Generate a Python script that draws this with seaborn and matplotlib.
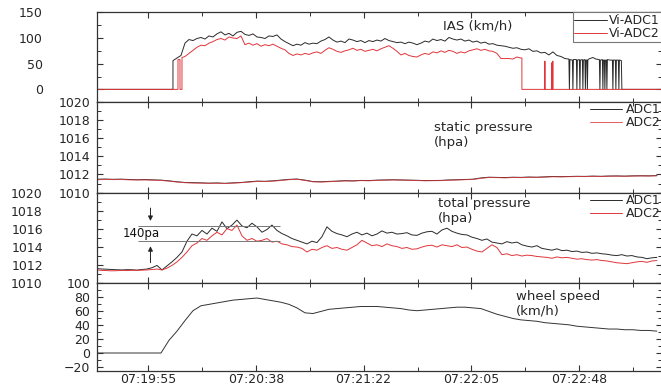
import numpy as np
import pandas as pd
import matplotlib
matplotlib.use("Agg")
import matplotlib.pyplot as plt
from matplotlib.ticker import FixedLocator, MultipleLocator
import seaborn as sns

# ---------------- data (time in seconds after 07:19:55) ----------------
x_tick_pos = [0.0, 43.333, 86.667, 130.0, 173.333]
x_tick_labels = ["07:19:55", "07:20:38", "07:21:22", "07:22:05", "07:22:48"]
x_limits = [-20.49, 206.6]

# IAS ADC1 (black)
ias1_head_t = [-20.49, 10.04]
ias1_head_v = [0, 0]
ias1_main_span = [10.05, 169.18]
ias1_main_v = [56, 61, 66, 90, 97, 95, 99, 101, 98, 104,
               102, 108, 112, 106, 109, 104, 111, 113, 107, 105,
               108, 102, 101, 99, 104, 103, 106, 98, 93, 89,
               85, 88, 86, 91, 88, 90, 89, 94, 97, 102,
               96, 92, 94, 91, 98, 96, 93, 95, 91, 95,
               93, 96, 94, 99, 95, 93, 91, 92, 89, 92,
               90, 87, 90, 94, 92, 98, 95, 97, 94, 101,
               98, 96, 98, 94, 96, 92, 94, 90, 92, 88,
               89, 86, 85, 84, 82, 80, 81, 78, 77, 79,
               74, 75, 71, 72, 67, 73, 66, 64, 60, 59]
ias1_tail_t = [169.38, 169.58, 170.59, 170.79, 170.99, 172.19, 172.39, 172.59,
               173.40, 173.60, 173.80, 174.60, 174.80, 175.00, 175.61, 175.81,
               176.01, 176.41, 176.61, 176.81, 177.62, 178.82, 180.03, 181.43,
               181.64, 181.84, 182.64, 182.84, 183.04, 183.44, 183.64, 183.84,
               184.25, 184.45, 184.65, 185.65, 186.66, 186.86, 187.06, 187.86,
               188.06, 188.26, 189.07, 189.27, 189.47, 190.27, 190.47, 206.6]
ias1_tail_v = [0, 58, 57, 0, 58, 58, 0, 57,
               58, 0, 57, 58, 0, 57, 58, 0,
               57, 57, 0, 58, 60, 62, 59, 58,
               0, 57, 58, 0, 57, 57, 0, 57,
               57, 0, 58, 57, 57, 0, 57, 57,
               0, 57, 57, 0, 57, 56, 0, 0]

# IAS ADC2 (red)
ias2_head_t = [-20.49, 12.06, 12.07, 12.86, 12.87, 13.66, 13.67]
ias2_head_v = [0, 0, 58, 58, 0, 0, 62]
ias2_main_span = [14.87, 149.89]
ias2_main_v = [64, 70, 76, 82, 86, 85, 90, 93, 97, 99,
               96, 102, 100, 99, 104, 87, 90, 86, 89, 84,
               87, 85, 88, 84, 80, 77, 70, 66, 69, 67,
               70, 68, 71, 73, 70, 76, 81, 78, 74, 72,
               75, 77, 80, 76, 78, 74, 76, 78, 75, 79,
               82, 85, 80, 74, 67, 70, 66, 64, 63, 67,
               70, 68, 73, 71, 75, 72, 76, 74, 70, 73,
               71, 75, 77, 79, 76, 78, 75, 74, 70, 60,
               60, 60, 59, 63, 61]
ias2_tail_t = [150.28, 150.29, 159.45, 159.53, 159.61, 162.27, 162.35, 162.47,
               162.59, 162.71, 162.83, 206.6]
ias2_tail_v = [61, 0, 0, 55, 0, 0, 52, 0, 0, 55, 0, 0]

# static pressure (hPa)
static_span = [-20.49, 204.54]
static1 = [1011.48, 1011.50, 1011.47, 1011.49, 1011.45, 1011.42, 1011.44, 1011.41,
           1011.38, 1011.30, 1011.20, 1011.12, 1011.10, 1011.08, 1011.05, 1011.07,
           1011.03, 1011.08, 1011.12, 1011.20, 1011.27, 1011.25, 1011.30, 1011.38,
           1011.46, 1011.50, 1011.38, 1011.22, 1011.20, 1011.24, 1011.27, 1011.32,
           1011.30, 1011.35, 1011.33, 1011.38, 1011.40, 1011.42, 1011.40, 1011.38,
           1011.36, 1011.33, 1011.34, 1011.35, 1011.40, 1011.42, 1011.45, 1011.48,
           1011.62, 1011.70, 1011.68, 1011.66, 1011.70, 1011.68, 1011.72, 1011.70,
           1011.74, 1011.78, 1011.76, 1011.78, 1011.80, 1011.79, 1011.82, 1011.80,
           1011.83, 1011.84, 1011.82, 1011.85, 1011.86, 1011.85, 1011.88]
static2 = [1011.42, 1011.46, 1011.44, 1011.45, 1011.41, 1011.40, 1011.40, 1011.37,
           1011.35, 1011.27, 1011.17, 1011.10, 1011.06, 1011.05, 1011.02, 1011.04,
           1011.01, 1011.05, 1011.10, 1011.16, 1011.24, 1011.23, 1011.27, 1011.34,
           1011.43, 1011.48, 1011.35, 1011.20, 1011.17, 1011.21, 1011.25, 1011.29,
           1011.28, 1011.33, 1011.31, 1011.35, 1011.37, 1011.40, 1011.38, 1011.36,
           1011.34, 1011.31, 1011.32, 1011.33, 1011.37, 1011.40, 1011.43, 1011.46,
           1011.58, 1011.67, 1011.66, 1011.63, 1011.67, 1011.66, 1011.69, 1011.68,
           1011.71, 1011.75, 1011.74, 1011.76, 1011.78, 1011.77, 1011.80, 1011.78,
           1011.81, 1011.82, 1011.80, 1011.83, 1011.84, 1011.83, 1011.86]

# total pressure (hPa)
total_span = [-20.49, 204.54]
total1 = [1011.55, 1011.50, 1011.48, 1011.45, 1011.42, 1011.40, 1011.43, 1011.42,
          1011.38, 1011.45, 1011.50, 1011.65, 1011.90, 1011.40, 1011.85, 1012.30,
          1012.80, 1013.40, 1014.60, 1015.40, 1015.20, 1015.80, 1015.40, 1016.05,
          1015.70, 1016.75, 1016.00, 1016.40, 1016.95, 1016.30, 1016.10, 1016.60,
          1016.20, 1015.60, 1015.90, 1016.40, 1015.80, 1015.45, 1015.20, 1014.90,
          1014.70, 1014.50, 1014.30, 1014.60, 1014.45, 1015.10, 1016.20, 1015.70,
          1015.45, 1015.30, 1015.10, 1015.40, 1015.60, 1015.30, 1015.50, 1015.20,
          1015.40, 1015.75, 1015.50, 1015.60, 1015.40, 1015.45, 1015.55, 1015.30,
          1015.25, 1015.50, 1015.65, 1015.70, 1015.40, 1015.85, 1016.05, 1015.70,
          1015.50, 1015.35, 1015.30, 1015.05, 1014.90, 1014.70, 1014.85, 1014.50,
          1014.40, 1014.30, 1014.55, 1014.40, 1014.50, 1014.20, 1014.05, 1013.95,
          1014.10, 1013.80, 1013.70, 1013.60, 1013.75, 1013.55, 1013.60, 1013.45,
          1013.50, 1013.35, 1013.40, 1013.25, 1013.30, 1013.20, 1013.15, 1013.05,
          1013.00, 1013.10, 1012.95, 1013.00, 1012.85, 1012.80, 1012.65, 1012.75,
          1012.80]
total2 = [1011.40, 1011.35, 1011.33, 1011.30, 1011.32, 1011.35, 1011.33, 1011.36,
          1011.35, 1011.38, 1011.40, 1011.45, 1011.50, 1011.40, 1011.60, 1011.90,
          1012.30, 1012.80, 1013.40, 1014.10, 1014.40, 1014.90, 1014.70, 1015.20,
          1015.60, 1015.30, 1016.00, 1015.80, 1016.40, 1015.20, 1014.70, 1014.90,
          1014.60, 1014.70, 1014.90, 1014.50, 1014.60, 1014.30, 1014.20, 1014.00,
          1013.95, 1013.80, 1013.40, 1013.70, 1013.60, 1013.90, 1014.10, 1013.80,
          1013.90, 1013.70, 1013.60, 1013.90, 1014.20, 1014.70, 1014.40, 1014.10,
          1014.20, 1014.00, 1014.30, 1014.10, 1014.00, 1013.80, 1013.90, 1013.70,
          1013.75, 1013.95, 1014.10, 1014.15, 1013.95, 1014.20, 1014.10, 1014.00,
          1014.20, 1013.90, 1013.95, 1013.70, 1013.50, 1013.40, 1013.80, 1014.20,
          1013.90, 1013.10, 1013.20, 1013.00, 1013.10, 1012.95, 1013.05, 1013.00,
          1012.90, 1012.85, 1012.80, 1012.70, 1012.85, 1012.75, 1012.80, 1012.70,
          1012.60, 1012.65, 1012.55, 1012.50, 1012.55, 1012.45, 1012.40, 1012.30,
          1012.20, 1012.15, 1012.10, 1012.20, 1012.30, 1012.35, 1012.25, 1012.40,
          1012.45]

# wheel speed (km/h)
wheel_span = [-20.49, 204.54]
wheel = [0, 0, 0, 0, 0, 0, 0, 0, 0,
         18, 31, 46, 60, 67, 69, 71, 73, 75, 76,
         77, 78, 76, 74, 72, 69, 64, 57, 56, 59,
         62, 63, 64, 65, 66, 66, 66, 65, 64, 63,
         61, 60, 61, 62, 63, 64, 65, 65, 64, 63,
         59, 55, 52, 49, 47, 46, 45, 43, 42, 41,
         40, 38, 37, 36, 35, 34, 34, 33, 33, 32,
         32, 31]

# annotation of the 140 Pa gap
gap_levels = [1016.25, 1014.65]
gap_span = [-4.0, 53.0]
gap_arrow_t = 1.0
gap_arrow_down = [1018.6, 1016.55]
gap_arrow_up = [1011.9, 1014.35]
gap_label = "140pa"
gap_label_pos = [-2.8, 1015.45]

# ---------------- style ----------------
sns.set_style("ticks")
plt.rcParams["font.family"] = ["DejaVu Sans"]
plt.rcParams["font.size"] = 9
BLACK = "#2a2a2a"
RED = "#e0353a"
LW = 0.7


def series(head_t, head_v, span, main_v, tail_t, tail_v):
    t = np.concatenate([head_t, np.linspace(span[0], span[1], len(main_v)), tail_t])
    v = np.concatenate([head_v, main_v, tail_v])
    return pd.DataFrame({"t": t, "v": v})


def uniform(span, vals):
    return pd.DataFrame({"t": np.linspace(span[0], span[1], len(vals)), "v": vals})


fig = plt.figure(figsize=(6.61, 3.87), dpi=100)
left, width = 97 / 661, (662 - 97) / 661
rows = [(0.7372, 0.2310), (0.5021, 0.2351), (0.2700, 0.2320), (0.0414, 0.2286)]
axes = [fig.add_axes([left, b, width, h]) for b, h in rows]
ax1, ax2, ax3, ax4 = axes

# panel 1 : IAS
d1 = series(ias1_head_t, ias1_head_v, ias1_main_span, ias1_main_v, ias1_tail_t, ias1_tail_v)
d2 = series(ias2_head_t, ias2_head_v, ias2_main_span, ias2_main_v, ias2_tail_t, ias2_tail_v)
sns.lineplot(data=d1, x="t", y="v", ax=ax1, color=BLACK, lw=LW, estimator=None, sort=False, label="Vi-ADC1")
sns.lineplot(data=d2, x="t", y="v", ax=ax1, color=RED, lw=LW, estimator=None, sort=False, label="Vi-ADC2")
ax1.set_ylim(-24, 150)
ax1.yaxis.set_major_locator(FixedLocator([0, 50, 100, 150]))
ax1.yaxis.set_minor_locator(MultipleLocator(25))

# panel 2 : static pressure
sns.lineplot(data=uniform(static_span, static1), x="t", y="v", ax=ax2, color=BLACK, lw=LW,
             estimator=None, sort=False, label="ADC1")
sns.lineplot(data=uniform(static_span, static2), x="t", y="v", ax=ax2, color=RED, lw=LW,
             estimator=None, sort=False, label="ADC2", alpha=0.8)
ax2.set_ylim(1010, 1020)
ax2.yaxis.set_major_locator(MultipleLocator(2))
ax2.yaxis.set_minor_locator(MultipleLocator(1))

# panel 3 : total pressure
sns.lineplot(data=uniform(total_span, total1), x="t", y="v", ax=ax3, color=BLACK, lw=LW,
             estimator=None, sort=False, label="ADC1")
sns.lineplot(data=uniform(total_span, total2), x="t", y="v", ax=ax3, color=RED, lw=LW,
             estimator=None, sort=False, label="ADC2")
ax3.set_ylim(1010, 1020)
ax3.yaxis.set_major_locator(MultipleLocator(2))
ax3.yaxis.set_minor_locator(MultipleLocator(1))
ax3.hlines(gap_levels, gap_span[0], gap_span[1], color="#777777", lw=0.7)
ax3.annotate("", xy=(gap_arrow_t, gap_arrow_down[1]), xytext=(gap_arrow_t, gap_arrow_down[0]),
             arrowprops=dict(arrowstyle="-|>", lw=0.7, color="#222222", mutation_scale=7))
ax3.annotate("", xy=(gap_arrow_t, gap_arrow_up[1]), xytext=(gap_arrow_t, gap_arrow_up[0]),
             arrowprops=dict(arrowstyle="-|>", lw=0.7, color="#222222", mutation_scale=7))
ax3.text(gap_label_pos[0], gap_label_pos[1], gap_label, ha="center", va="center", fontsize=8.5,
         color="#111111")

# panel 4 : wheel speed
sns.lineplot(data=uniform(wheel_span, wheel), x="t", y="v", ax=ax4, color="#333333", lw=LW,
             estimator=None, sort=False)
ax4.set_ylim(-25.5, 100)
ax4.yaxis.set_major_locator(MultipleLocator(20))
ax4.yaxis.set_minor_locator(MultipleLocator(10))

# titles inside panels
ax1.text(0.674, 0.847, "IAS (km/h)", transform=ax1.transAxes, ha="center", va="center", fontsize=9.5)
ax2.text(0.596, 0.634, "static pressure\n(hpa)", transform=ax2.transAxes, ha="left", va="center",
         fontsize=9.5, linespacing=1.15)
ax3.text(0.603, 0.796, "total pressure\n(hpa)", transform=ax3.transAxes, ha="left", va="center",
         fontsize=9.5, linespacing=1.15)
ax4.text(0.742, 0.764, "wheel speed\n(km/h)", transform=ax4.transAxes, ha="left", va="center",
         fontsize=9.5, linespacing=1.15)

# legends
ax1.legend(loc="upper right", bbox_to_anchor=(1.0, 1.0), borderaxespad=0, frameon=True,
           fancybox=False, edgecolor="#777777", framealpha=1, handlelength=2.6, handletextpad=0.2,
           labelspacing=0.0, borderpad=0.15, fontsize=9)
ax1.get_legend().get_frame().set_linewidth(0.8)
for ax in (ax2, ax3):
    ax.legend(loc="upper right", bbox_to_anchor=(1.0, 1.0), borderaxespad=0, frameon=False,
              handlelength=2.6, handletextpad=0.3, labelspacing=0.0, borderpad=0.1, fontsize=9)

# common axis styling
for i, ax in enumerate(axes):
    ax.set_xlim(*x_limits)
    ax.xaxis.set_major_locator(FixedLocator(x_tick_pos))
    ax.xaxis.set_minor_locator(MultipleLocator(43.333 / 2))
    ax.set_xlabel("")
    ax.set_ylabel("")
    ax.tick_params(which="both", direction="in", top=True, right=True, color="#333333")
    ax.tick_params(which="major", length=4, width=0.8)
    ax.tick_params(which="minor", length=3, width=0.7)
    pad = 39 if i in (0, 2) else 5
    ax.tick_params(axis="y", which="major", pad=pad, labelsize=9)
    for s in ax.spines.values():
        s.set_color("#333333")
        s.set_linewidth(0.9)
    if i < 3:
        ax.tick_params(axis="x", labelbottom=False)
ax4.set_xticklabels(x_tick_labels)
ax4.tick_params(axis="x", which="major", pad=1.5, labelsize=9)

fig.savefig("out.png", dpi=100)
